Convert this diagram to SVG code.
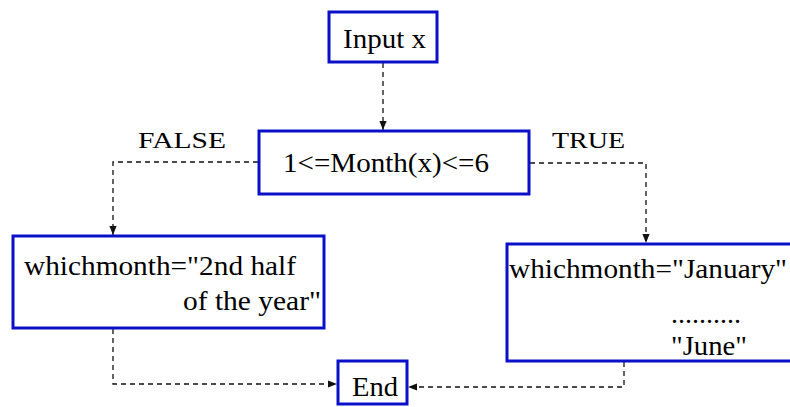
<svg xmlns="http://www.w3.org/2000/svg" width="790" height="407" viewBox="0 0 790 407">
<style>
.box{fill:#fff;stroke:#0a10c8;stroke-width:3}
.t{font-family:"Liberation Serif","Times New Roman",serif;font-size:28px;fill:#000}
.lab{font-family:"Liberation Serif","Times New Roman",serif;font-size:24px;fill:#000}
.c{fill:none;stroke:#111;stroke-width:1.3;stroke-dasharray:5,4}
</style>
<defs>
<marker id="ah" viewBox="0 0 10 10" refX="10" refY="5" markerWidth="9" markerHeight="9" markerUnits="userSpaceOnUse" orient="auto">
<path d="M0,1 L10,5 L0,9 Z" fill="#111"/>
</marker>
</defs>
<rect width="790" height="407" fill="#fff"/>
<g id="connectors">
<path class="c" d="M383,63 V130" marker-end="url(#ah)"/>
<path class="c" d="M258,162 H113 V235" marker-end="url(#ah)"/>
<path class="c" d="M530,163 H646 V243" marker-end="url(#ah)"/>
<path class="c" d="M113,329 V384 H337" marker-end="url(#ah)"/>
<path class="c" d="M624,362 V387 H408" marker-end="url(#ah)"/>
</g>
<g id="input">
<rect class="box" x="329" y="12" width="108" height="50"/>
<text class="t" x="343" y="48" textLength="83" lengthAdjust="spacingAndGlyphs">Input x</text>
</g>
<g id="condition">
<rect class="box" x="259" y="131" width="270" height="63"/>
<text class="t" x="283" y="172" textLength="206" lengthAdjust="spacingAndGlyphs">1&lt;=Month(x)&lt;=6</text>
</g>
<g id="label-false">
<text class="lab" x="138" y="148" textLength="88" lengthAdjust="spacingAndGlyphs">FALSE</text>
</g>
<g id="label-true">
<text class="lab" x="552" y="148" textLength="73" lengthAdjust="spacingAndGlyphs">TRUE</text>
</g>
<g id="false-branch">
<rect class="box" x="13" y="236" width="311" height="92"/>
<text class="t" x="24" y="275" textLength="272" lengthAdjust="spacingAndGlyphs">whichmonth="2nd half</text>
<text class="t" x="183" y="310" textLength="138" lengthAdjust="spacingAndGlyphs">of the year"</text>
</g>
<g id="true-branch">
<rect class="box" x="507" y="244" width="300" height="117"/>
<text class="t" x="509" y="278" textLength="278" lengthAdjust="spacingAndGlyphs">whichmonth="January"</text>
<text class="t" x="671" y="323" textLength="70" lengthAdjust="spacingAndGlyphs">..........</text>
<text class="t" x="671" y="355" textLength="76" lengthAdjust="spacingAndGlyphs">"June"</text>
</g>
<g id="end">
<rect class="box" x="338" y="361" width="69" height="43"/>
<text class="t" x="352" y="396" textLength="46" lengthAdjust="spacingAndGlyphs">End</text>
</g>
</svg>
